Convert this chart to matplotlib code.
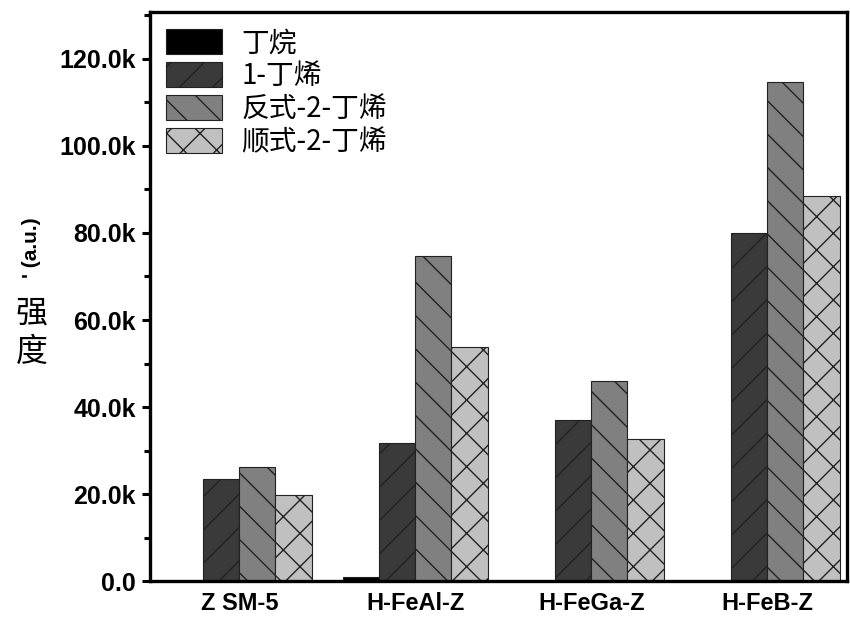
import numpy as np
import matplotlib.pyplot as plt
from matplotlib.ticker import MultipleLocator, FuncFormatter

groups = ['Z SM-5', 'H-FeAl-Z', 'H-FeGa-Z', 'H-FeB-Z']
series = ['丁烷', '1-丁烯', '反式-2-丁烯', '顺式-2-丁烯']
butane = [0, 900, 0, 0]
butene1 = [23400, 31700, 37000, 80000]
trans2 = [26200, 74700, 46000, 114700]
cis2 = [19800, 53800, 32600, 88500]

colors = ['#000000', '#3a3a3a', '#808080', '#c0c0c0']
hatches = ['', '/', '\\', 'x']

plt.rcParams['hatch.linewidth'] = 1.0
plt.rcParams['hatch.color'] = 'black'

fig = plt.figure(figsize=(8.5, 6.19), dpi=100)
ax = fig.add_axes([0.176, 0.061, 0.82, 0.92])

x = np.arange(len(groups))
w = 0.205
for i, vals in enumerate([butane, butene1, trans2, cis2]):
    ax.bar(x + (i - 1.5) * w, vals, w, color=colors[i], hatch=hatches[i],
           edgecolor='#222222', linewidth=0.8, label=series[i])

ax.set_xlim(-0.51, 3.45)
ax.set_ylim(0, 130800)
ax.set_xticks(x)
ax.set_xticklabels(groups, fontsize=17, fontweight='bold', family='Liberation Sans')
ax.yaxis.set_major_locator(MultipleLocator(20000))
ax.yaxis.set_minor_locator(MultipleLocator(10000))
ax.yaxis.set_major_formatter(FuncFormatter(lambda v, p: '0.0' if v == 0 else f'{v/1000:.1f}k'))
for lab in ax.get_yticklabels():
    lab.set_fontsize(18)
    lab.set_fontweight('bold')
    lab.set_family('Liberation Sans')
ax.tick_params(axis='y', which='major', direction='out', length=6, width=2.2, pad=4)
ax.tick_params(axis='y', which='minor', direction='out', length=4, width=2.2)
ax.tick_params(axis='x', which='major', length=0, pad=8)
for s in ax.spines.values():
    s.set_linewidth(2.4)

leg = ax.legend(loc='upper left', frameon=False, handlelength=2.0, handleheight=1.0,
                labelspacing=0.1, handletextpad=0.7, borderaxespad=0.2,
                prop={'family': ['Noto Sans CJK SC', 'DejaVu Sans'], 'size': 20})

fig.text(0.037, 0.462, '强\n度', fontsize=23, family=['Noto Sans CJK SC', 'DejaVu Sans'],
         ha='center', va='center', linespacing=1.25)
fig.text(0.037, 0.6, "' (a.u.)", fontsize=15, fontweight='bold', family='Liberation Sans',
         rotation=90, ha='center', va='center')

fig.savefig('out.png', dpi=100)
